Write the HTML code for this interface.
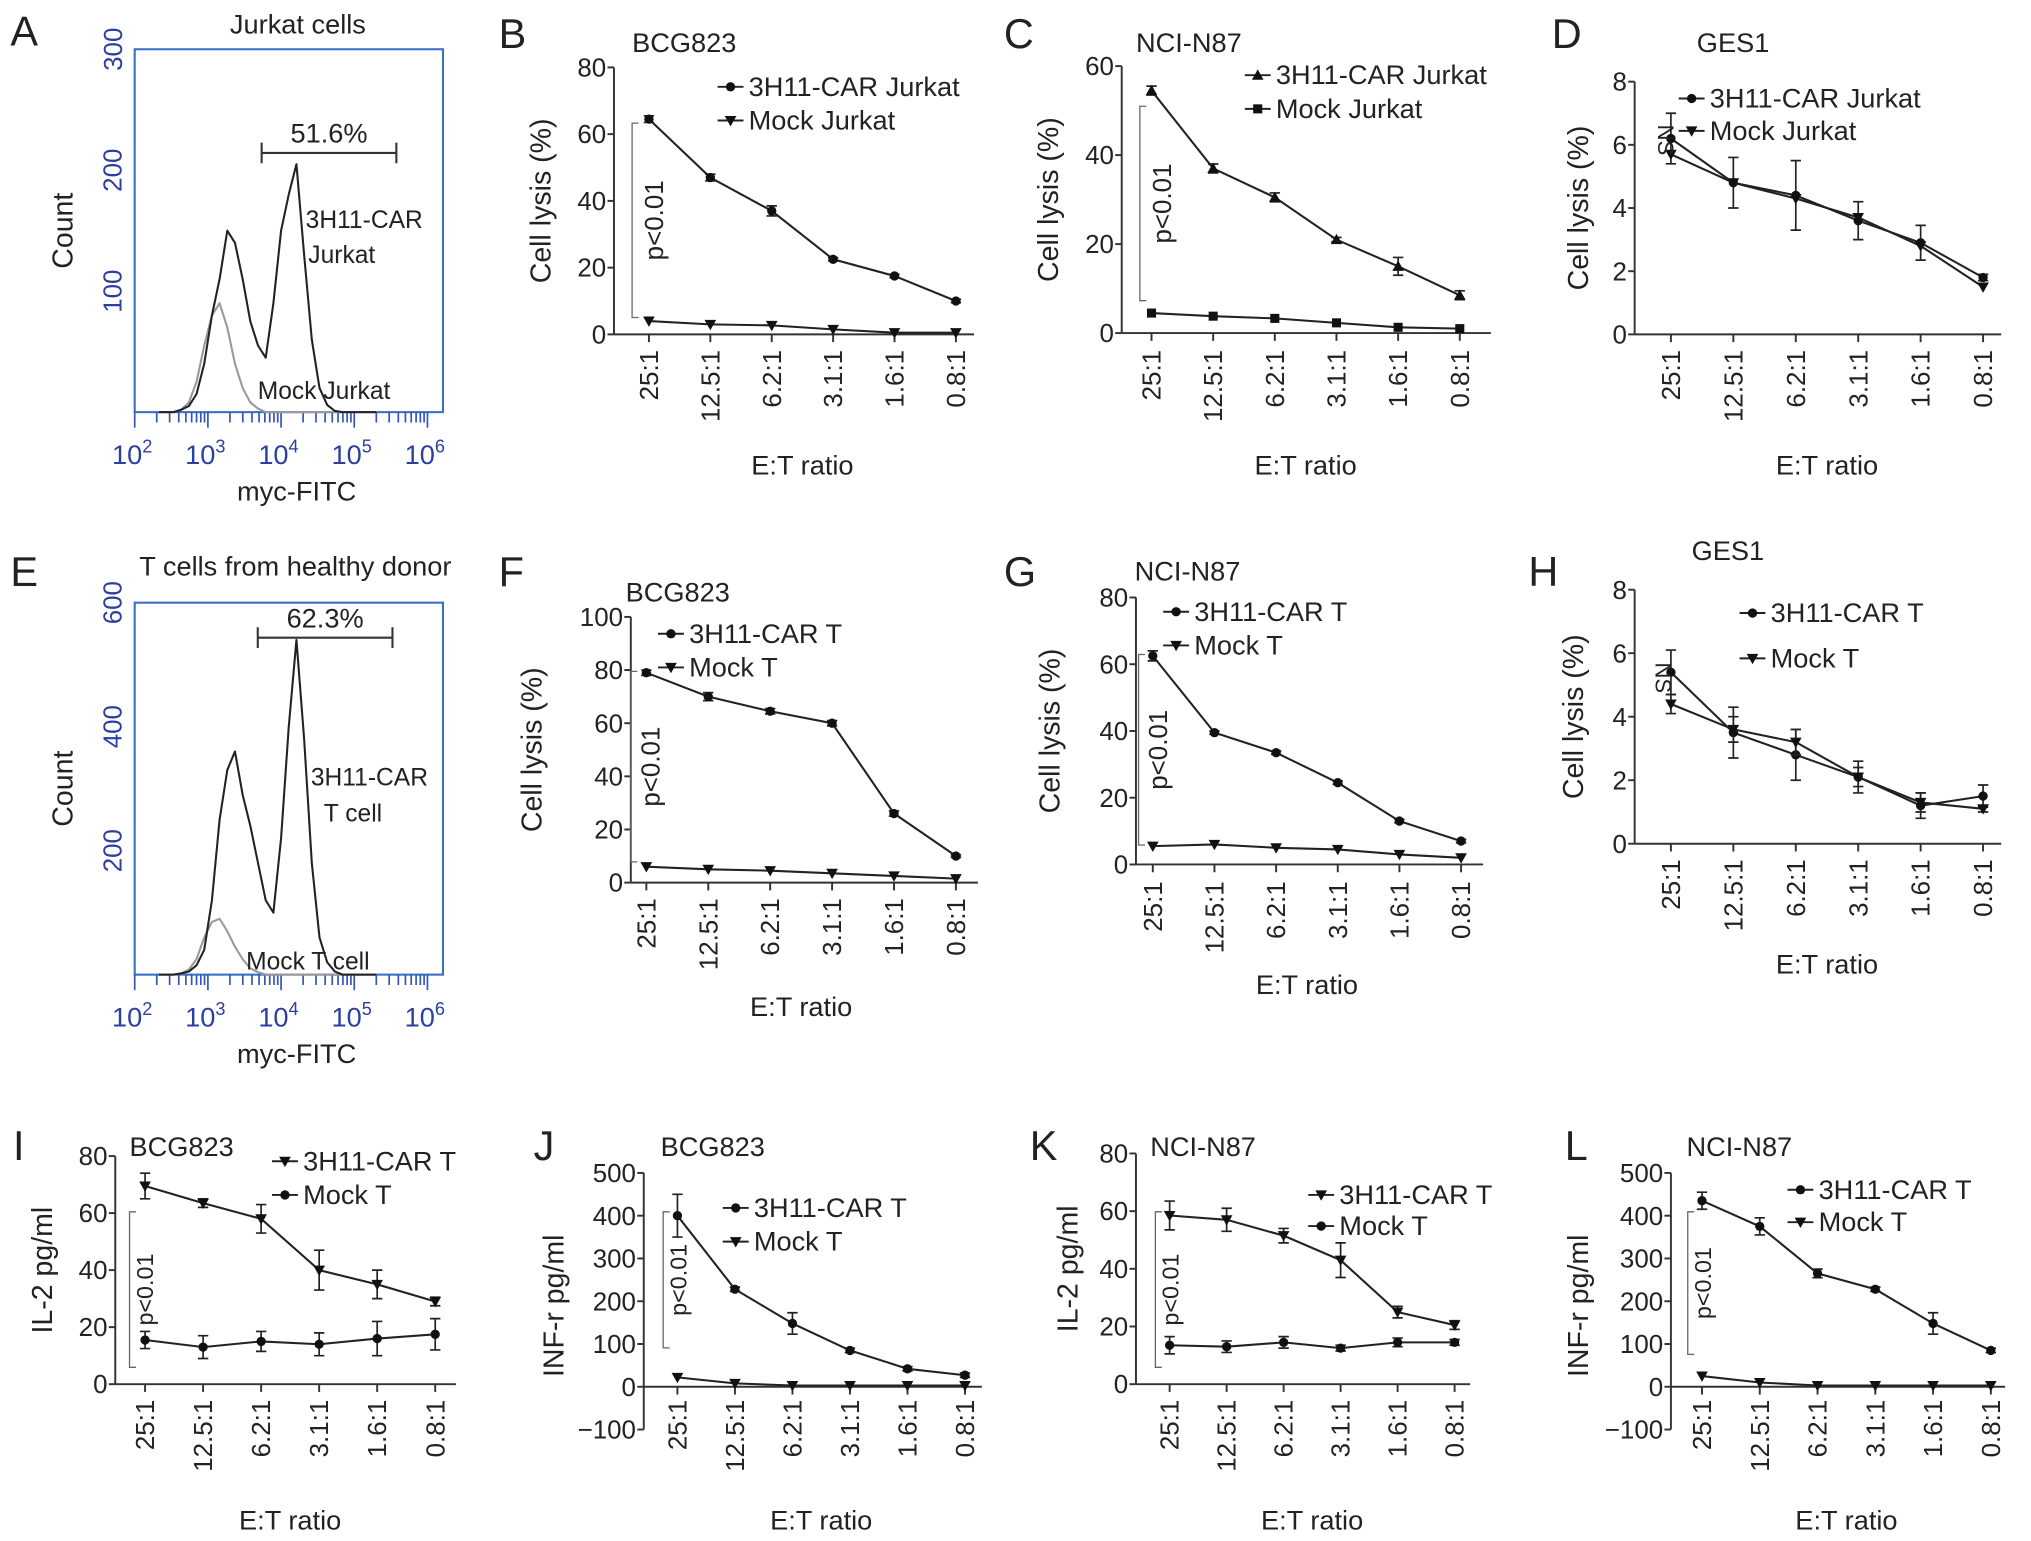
<!DOCTYPE html>
<html><head><meta charset="utf-8"><style>
html,body{margin:0;padding:0;background:#fff;}
svg{display:block;font-family:"Liberation Sans",Arial,sans-serif;}
</style></head><body>
<svg id="fig" xmlns="http://www.w3.org/2000/svg" width="2031" height="1541" viewBox="0 0 1568 1189" preserveAspectRatio="none"></svg>
<script>
// ---- data ----
const ratios = ["25:1","12.5:1","6.2:1","3.1:1","1.6:1","0.8:1"];
const bCar = [64.5,47,37,22.5,17.5,10];
const bCarErr = [1,1,1.5,0.5,0.5,0.5];
const bMock = [4,3,2.7,1.5,0.5,0.5];
const cCar = [54.5,37,30.5,21,15,8.5];
const cCarErr = [1,1,1,0.5,2,1];
const cMock = [4.5,3.8,3.3,2.3,1.3,1];
const dCar = [6.2,4.8,4.4,3.6,2.9,1.8];
const dCarErr = [0.8,0.8,1.1,0.6,0.55,0.1];
const dMock = [5.7,4.8,4.3,3.7,2.8,1.5];
const fCar = [79,70,64.5,60,26,10];
const fCarErr = [1,1.5,1,1,1,0.5];
const fMock = [6,5,4.5,3.5,2.5,1.5];
const gCar = [62.5,39.5,33.5,24.5,13,7];
const gCarErr = [1.5,0.5,0.5,0.5,0.5,0.5];
const gMock = [5.5,6,5,4.5,3,2];
const hCar = [5.4,3.5,2.8,2.1,1.2,1.5];
const hCarErr = [0.7,0.8,0.8,0.5,0.4,0.35];
const hMock = [4.4,3.6,3.2,2.1,1.3,1.1];
const hMockErr = [0.3,0.4,0.4,0.3,0.3,0.1];
const iCar = [69.5,63.5,58,40,35,29];
const iCarErr = [4.5,1.5,5,7,5,1.5];
const iMock = [15.5,13,15,14,16,17.5];
const iMockErr = [3,4,3.5,4,6,5.5];
const jCar = [400,228,148,85,42,27];
const jCarErr = [50,5,25,5,5,5];
const jMock = [22,8,3,3,3,3];
const kCar = [58.5,57,51.5,43,25,20.5];
const kCarErr = [5,4,2.5,6,2,1.5];
const kMock = [13.5,13,14.5,12.5,14.5,14.5];
const kMockErr = [3,2,2,1,1.5,1];
const lCar = [435,375,265,228,148,85];
const lCarErr = [20,20,10,5,25,5];
const lMock = [25,10,3,3,3,3];
// flow histograms: counts per log10 bin (bin width histStep) starting at histStart
const histStart = 2.53;
const histStep = 0.105;
const aCarHist = [0,2,5,15,40,80,110,150,140,110,75,55,45,90,150,180,205,130,60,20,6,1,0,0];
const aMockHist = [0,2,8,25,55,80,90,70,40,20,8,3,0,0,0,0,0,0,0,0,0,0,0,0];
const eCarHist = [0,2,5,15,40,120,250,330,360,290,240,180,120,100,220,400,540,380,180,60,20,5,0,0];
const eMockHist = [0,2,8,25,60,85,90,70,45,25,10,4,0,0,0,0,0,0,0,0,0,0,0,0];

// ---- helpers ----
const NS="http://www.w3.org/2000/svg";
const svg=document.getElementById('fig');
function mk(tag,attrs,parent,txt){const e=document.createElementNS(NS,tag);for(const k in attrs)e.setAttribute(k,attrs[k]);if(txt!==undefined)e.textContent=txt;(parent||svg).appendChild(e);return e;}
function grp(name,parent){const g=mk('g',{},parent);return g;}
function txt(p,x,y,s,size,opt){opt=opt||{};const t=mk('text',{x:x,y:y,'font-size':size,fill:opt.fill||'#222','text-anchor':opt.anchor||'start'},p,s);if(opt.rot!==undefined)t.setAttribute('transform','rotate('+opt.rot+' '+x+' '+y+')');return t;}
function marker(p,type,x,y){let e;
 if(type==='circle')e=mk('circle',{cx:x,cy:y,r:3.6,fill:'#111'},p);
 else if(type==='square')e=mk('rect',{x:x-3.5,y:y-3.5,width:7,height:7,fill:'#111'},p);
 else if(type==='up')e=mk('path',{d:`M${x} ${y-4.5}L${x+4.5} ${y+3.5}L${x-4.5} ${y+3.5}Z`,fill:'#111'},p);
 else e=mk('path',{d:`M${x} ${y+4.5}L${x+4.5} ${y-3.5}L${x-4.5} ${y-3.5}Z`,fill:'#111'},p);
 
 }

function linePanel(c){
 const g=grp('panel-'+c.letter.toLowerCase());
 const ys=v=>c.y0+(v-c.ymin)/(c.ymax-c.ymin)*(c.y1-c.y0);
 const step=(c.xl-c.xf)/(ratios.length-1);
 const xs=i=>c.xf+i*step;
 const zeroY=ys(Math.max(0,c.ymin));
 txt(g,c.lx,c.ly,c.letter,32,{name:'panel-letter'});
 txt(g,c.tx,c.ty,c.title,21,{name:'panel-title'});
 const ax=grp('y-axis',g);
 mk('line',{x1:c.ax,y1:ys(c.ymax),x2:c.ax,y2:ys(c.ymin),stroke:'#333','stroke-width':1.5},ax);
 c.ticks.forEach(t=>{mk('line',{x1:c.ax-5,y1:ys(t),x2:c.ax,y2:ys(t),stroke:'#333','stroke-width':1.5},ax);
  txt(ax,c.ax-6,ys(t)+7,String(t).replace('-','\u2212'),20,{anchor:'end',name:'y-tick-label'});});
 txt(g,c.ytx,(ys(c.ymax)+zeroY)/2+ (c.ytoff||0),c.ytitle,22,{anchor:'middle',rot:-90,name:'y-axis-title'});
 const xa=grp('x-axis',g);
 mk('line',{x1:c.ax,y1:zeroY,x2:c.xe,y2:zeroY,stroke:'#333','stroke-width':1.5},xa);
 ratios.forEach((r,i)=>{mk('line',{x1:xs(i),y1:zeroY,x2:xs(i),y2:zeroY+6,stroke:'#333','stroke-width':1.5},xa);
  txt(xa,xs(i)+7,c.xly,r,20,{anchor:'end',rot:-90,name:'x-tick-label'});});
 txt(g,(c.xf+c.xl)/2,c.xty,'E:T ratio',21,{anchor:'middle',name:'x-axis-title'});
 c.series.forEach(s=>{const sg=grp('series-'+s.name,g);
  const pts=s.data.map((v,i)=>xs(i)+','+ys(v)).join(' ');
  mk('polyline',{points:pts,fill:'none',stroke:'#222','stroke-width':1.6},sg);
  if(s.err)s.data.forEach((v,i)=>{const x=xs(i),a=ys(v+s.err[i]),b=ys(v-s.err[i]);
   mk('path',{d:`M${x} ${a}V${b}M${x-4} ${a}H${x+4}M${x-4} ${b}H${x+4}`,stroke:'#222','stroke-width':1.3,fill:'none'},sg);});
  s.data.forEach((v,i)=>marker(sg,s.mk,xs(i),ys(v)));
 });
 const lg=grp('legend',g);
 c.series.forEach((s,k)=>{const y=c.legy[k];const e=grp('legend-entry',lg);
  mk('line',{x1:c.legx-12,y1:y,x2:c.legx+8,y2:y,stroke:'#222','stroke-width':1.5},e);
  marker(e,s.mk,c.legx-2,y);txt(e,c.legx+12,y+7,s.label,21,{name:'legend-label'});});
 if(c.sig){const sg=grp('significance',g);
  mk('path',{d:`M${c.sig.x+5} ${c.sig.a}H${c.sig.x}V${c.sig.b}H${c.sig.x+5}`,stroke:'#666','stroke-width':1,fill:'none'},sg);
  txt(sg,c.sig.x+c.sig.tdx,(c.sig.a+c.sig.b)/2,c.sig.text,c.sig.size||20,{anchor:'middle',rot:-90,name:'significance-label'});}
}

function flowPanel(c){
 const g=grp('panel-'+c.letter.toLowerCase());
 const bl=104,br=342;
 const xs=l=>bl+(l-2)*56.5;
 const ys=v=>c.yb-(v/c.cmax)*(c.yb-c.yt);
 txt(g,c.lx,c.ly,c.letter,32,{name:'panel-letter'});
 txt(g,c.tx,c.ty,c.title,21,{anchor:'middle',name:'panel-title'});
 mk('rect',{x:bl,y:c.yt,width:br-bl,height:c.yb-c.yt,fill:'none',stroke:'#3a6fc4','stroke-width':1.6},g);
 c.ticks.forEach(t=>{txt(g,94,ys(t),String(t),20,{anchor:'middle',rot:-90,fill:'#2a3fa0',name:'y-tick-label'});});
 txt(g,56,(c.yt+c.yb)/2,'Count',22,{anchor:'middle',rot:-90,name:'y-axis-title'});
 const xa=grp('x-axis',g);
 for(let d=2;d<6;d++){for(let m=1;m<10;m++){const x=xs(d+Math.log10(m));
  mk('line',{x1:x,y1:c.yb,x2:x,y2:c.yb+(m===1?12:8),stroke:'#3355bb','stroke-width':1.3},xa);}}
 mk('line',{x1:xs(6),y1:c.yb,x2:xs(6),y2:c.yb+12,stroke:'#3355bb','stroke-width':1.3},xa);
 for(let d=2;d<=6;d++){const t=mk('text',{x:xs(d)-2,y:c.yb+40,'font-size':21,fill:'#2a3fa0','text-anchor':'middle'},xa);
  
  mk('tspan',{},t,'10');mk('tspan',{dy:-9,'font-size':14},t,String(d));}
 txt(g,229,c.yb+68,'myc-FITC',21,{anchor:'middle',name:'x-axis-title'});
 [[c.mock,'#999','mock-histogram'],[c.car,'#222','car-histogram']].forEach(([h,col,nm])=>{
  let d=`M${xs(histStart-0.2)} ${ys(0)}`;h.forEach((v,i)=>{d+=`L${xs(histStart+i*histStep)} ${ys(v)}`;});
  d+=`L${xs(5.3)} ${ys(0)}`;const p=mk('path',{d:d,fill:'none',stroke:col,'stroke-width':1.6,'stroke-linejoin':'round'},g);
  });
 const gt=grp('gate',g);
 mk('path',{d:`M${c.gx1} ${c.gy-8}V${c.gy+8}M${c.gx1} ${c.gy}H${c.gx2}M${c.gx2} ${c.gy-8}V${c.gy+8}`,stroke:'#333','stroke-width':1.6,fill:'none'},gt);
 txt(gt,(c.gx1+c.gx2)/2,c.gy-8,c.pct,21,{anchor:'middle',name:'gate-percent'});
 c.notes.forEach(n=>txt(g,n[0],n[1],n[2],19,{name:'annotation'}));
}

flowPanel({letter:'A',lx:8,ly:35,title:'Jurkat cells',tx:230,ty:26,yt:38,yb:318,cmax:300,ticks:[100,200,300],
 car:aCarHist,mock:aMockHist,gx1:202,gx2:306,gy:118,pct:'51.6%',
 notes:[[236,176,'3H11-CAR'],[238,203,'Jurkat'],[199,308,'Mock Jurkat']]});
flowPanel({letter:'E',lx:8,ly:452,title:'T cells from healthy donor',tx:228,ty:444,yt:465,yb:752,cmax:600,ticks:[200,400,600],
 car:eCarHist,mock:eMockHist,gx1:199,gx2:303,gy:492,pct:'62.3%',
 notes:[[240,606,'3H11-CAR'],[250,634,'T cell'],[190,748,'Mock T cell']]});

linePanel({letter:'B',lx:385,ly:37,title:'BCG823',tx:488,ty:40,ax:474,xf:501,xl:738,xe:752,y0:258,y1:52,ymin:0,ymax:80,ticks:[0,20,40,60,80],
 ytitle:'Cell lysis (%)',ytx:425,xly:270,xty:366,legx:566,legy:[67,93],
 series:[{name:'car',label:'3H11-CAR Jurkat',data:bCar,err:bCarErr,mk:'circle'},{name:'mock',label:'Mock Jurkat',data:bMock,mk:'down'}],
 sig:{x:488,a:95,b:245,text:'p<0.01',tdx:24}});
linePanel({letter:'C',lx:775,ly:37,title:'NCI-N87',tx:877,ty:40,ax:866,xf:889,xl:1127,xe:1151,y0:257,y1:51,ymin:0,ymax:60,ticks:[0,20,40,60],
 ytitle:'Cell lysis (%)',ytx:817,xly:270,xty:366,legx:973,legy:[58,84],
 series:[{name:'car',label:'3H11-CAR Jurkat',data:cCar,err:cCarErr,mk:'up'},{name:'mock',label:'Mock Jurkat',data:cMock,mk:'square'}],
 sig:{x:880,a:82,b:232,text:'p<0.01',tdx:24}});
linePanel({letter:'D',lx:1198,ly:37,title:'GES1',tx:1310,ty:40,ax:1262,xf:1290,xl:1531,xe:1545,y0:258,y1:63,ymin:0,ymax:8,ticks:[0,2,4,6,8],
 ytitle:'Cell lysis (%)',ytx:1226,xly:270,xty:366,legx:1308,legy:[76,101],
 series:[{name:'car',label:'3H11-CAR Jurkat',data:dCar,err:dCarErr,mk:'circle'},{name:'mock',label:'Mock Jurkat',data:dMock,mk:'down'}]});
linePanel({letter:'F',lx:385,ly:452,title:'BCG823',tx:483,ty:464,ax:487,xf:499,xl:738,xe:755,y0:681,y1:476,ymin:0,ymax:100,ticks:[0,20,40,60,80,100],
 ytitle:'Cell lysis (%)',ytx:418,xly:693,xty:784,legx:520,legy:[489,515],
 series:[{name:'car',label:'3H11-CAR T',data:fCar,err:fCarErr,mk:'circle'},{name:'mock',label:'Mock T',data:fMock,mk:'down'}],
 sig:{x:487,a:518,b:665,text:'p<0.01',tdx:22}});
linePanel({letter:'G',lx:775,ly:452,title:'NCI-N87',tx:876,ty:448,ax:877,xf:890,xl:1128,xe:1145,y0:667,y1:461,ymin:0,ymax:80,ticks:[0,20,40,60,80],
 ytitle:'Cell lysis (%)',ytx:818,xly:680,xty:767,legx:910,legy:[472,498],
 series:[{name:'car',label:'3H11-CAR T',data:gCar,err:gCarErr,mk:'circle'},{name:'mock',label:'Mock T',data:gMock,mk:'down'}],
 sig:{x:879,a:505,b:652,text:'p<0.01',tdx:22}});
linePanel({letter:'H',lx:1180,ly:452,title:'GES1',tx:1306,ty:432,ax:1262,xf:1290,xl:1531,xe:1545,y0:651,y1:455,ymin:0,ymax:8,ticks:[0,2,4,6,8],
 ytitle:'Cell lysis (%)',ytx:1222,xly:663,xty:751,legx:1355,legy:[473,508],
 series:[{name:'car',label:'3H11-CAR T',data:hCar,err:hCarErr,mk:'circle'},{name:'mock',label:'Mock T',data:hMock,err:hMockErr,mk:'down'}]});
linePanel({letter:'I',lx:10,ly:895,title:'BCG823',tx:100,ty:892,ax:89,xf:112,xl:336,xe:352,y0:1068,y1:892,ymin:0,ymax:80,ticks:[0,20,40,60,80],
 ytitle:'IL-2 pg/ml',ytx:40,xly:1080,xty:1180,legx:222,legy:[896,922],
 series:[{name:'car',label:'3H11-CAR T',data:iCar,err:iCarErr,mk:'down'},{name:'mock',label:'Mock T',data:iMock,err:iMockErr,mk:'circle'}],
 sig:{x:100,a:935,b:1055,text:'p<0.01',tdx:18,size:18}});
linePanel({letter:'J',lx:412,ly:895,title:'BCG823',tx:510,ty:892,ax:497,xf:523,xl:745,xe:758,y0:1103,y1:905,ymin:-100,ymax:500,ticks:[-100,0,100,200,300,400,500],
 ytitle:'INF-r pg/ml',ytx:435,ytoff:20,xly:1080,xty:1180,legx:570,legy:[932,958],
 series:[{name:'car',label:'3H11-CAR T',data:jCar,err:jCarErr,mk:'circle'},{name:'mock',label:'Mock T',data:jMock,mk:'down'}],
 sig:{x:512,a:935,b:1040,text:'p<0.01',tdx:18,size:18}});
linePanel({letter:'K',lx:795,ly:895,title:'NCI-N87',tx:888,ty:892,ax:877,xf:903,xl:1123,xe:1135,y0:1068,y1:890,ymin:0,ymax:80,ticks:[0,20,40,60,80],
 ytitle:'IL-2 pg/ml',ytx:832,xly:1080,xty:1180,legx:1022,legy:[922,946],
 series:[{name:'car',label:'3H11-CAR T',data:kCar,err:kCarErr,mk:'down'},{name:'mock',label:'Mock T',data:kMock,err:kMockErr,mk:'circle'}],
 sig:{x:892,a:935,b:1055,text:'p<0.01',tdx:18,size:18}});
linePanel({letter:'L',lx:1208,ly:895,title:'NCI-N87',tx:1302,ty:892,ax:1290,xf:1314,xl:1537,xe:1548,y0:1103,y1:905,ymin:-100,ymax:500,ticks:[-100,0,100,200,300,400,500],
 ytitle:'INF-r pg/ml',ytx:1226,ytoff:20,xly:1080,xty:1180,legx:1392,legy:[918,943],
 series:[{name:'car',label:'3H11-CAR T',data:lCar,err:lCarErr,mk:'circle'},{name:'mock',label:'Mock T',data:lMock,mk:'down'}],
 sig:{x:1303,a:935,b:1045,text:'p<0.01',tdx:18,size:18}});
txt(svg,1280,108,'NS',17,{anchor:'middle',rot:90,name:'ns-label'});
txt(svg,1278,523,'NS',17,{anchor:'middle',rot:90,name:'ns-label'});
</script>
</body></html>
